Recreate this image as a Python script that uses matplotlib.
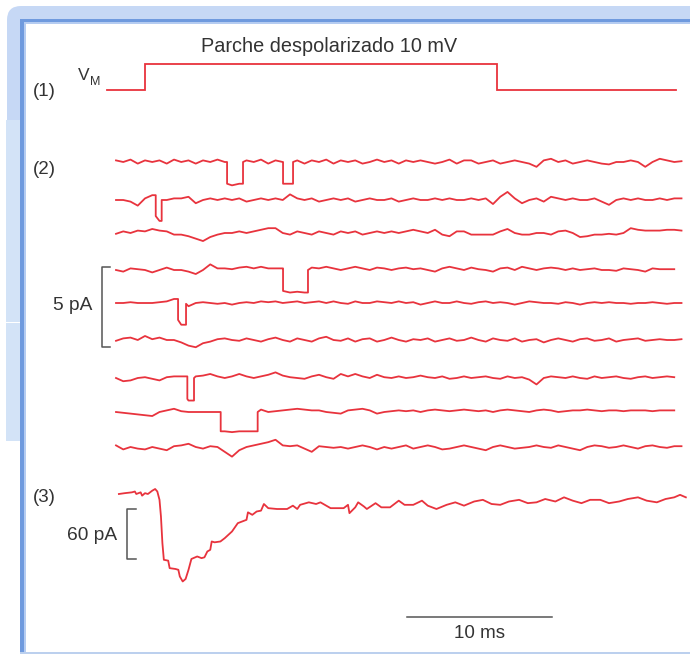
import numpy as np
import matplotlib
matplotlib.use("Agg")
import matplotlib.pyplot as plt
from matplotlib.patches import FancyBboxPatch, Rectangle

plt.rcParams['font.family'] = ['Liberation Sans', 'DejaVu Sans']

# ---------------- data ----------------
# (1) membrane potential step (ms, mV)
vm_t = [-2.6, 0.0, 0.0, 24.3, 24.3, 36.6]
vm_mv = [0, 0, 10, 10, 0, 0]

# (2) single-channel sweeps: baseline noise sampled every 0.5 ms from -2 ms (pA)
T0, DT = -2.0, 0.5
sweep1 = [0.1, 0.0, 0.15, -0.1, 0.1, 0.0, 0.1, -0.1, 0.15, 0.0,
          0.1, -0.1, 0.1, 0.0, 0.15, 0.0, -0.1, 0.0, 0.1, 0.0,
          0.15, -0.1, 0.1, 0.0, 0.0, 0.1, -0.1, 0.1, 0.0, 0.15,
          -0.1, 0.1, 0.0, 0.1, -0.1, 0.0, 0.15, 0.0, 0.1, -0.1,
          0.1, 0.0, 0.1, 0.0, -0.1, 0.0, 0.15, -0.1, 0.1, 0.1,
          -0.1, 0.0, 0.1, -0.1, 0.0, 0.1, 0.0, -0.1, -0.3, 0.1,
          0.2, 0.0, 0.1, -0.1, 0.0, 0.1, 0.0, -0.1, -0.15, 0.0,
          0.0, 0.1, 0.0, -0.3, 0.0, 0.2, 0.1, 0.0, 0.05]
sweep2 = [0.0, 0.0, -0.1, -0.35, 0.1, 0.3, 0.0, 0.0, 0.1, 0.1,
          0.2, -0.2, 0.0, 0.1, 0.0, 0.1, 0.0, 0.1, -0.1, 0.0,
          0.1, 0.0, 0.1, 0.0, 0.35, 0.1, 0.0, 0.1, -0.1, 0.0,
          0.1, 0.0, 0.1, -0.1, 0.0, 0.1, 0.0, 0.0, 0.1, -0.1,
          0.0, 0.1, 0.0, 0.0, 0.1, 0.0, 0.1, 0.0, 0.0, 0.1,
          0.0, 0.1, -0.25, 0.2, 0.5, 0.1, -0.2, 0.0, 0.1, -0.1,
          0.2, 0.1, 0.0, 0.1, 0.0, 0.0, 0.1, -0.1, -0.3, 0.0,
          0.1, 0.0, 0.1, 0.0, 0.0, 0.1, 0.0, 0.1, 0.1]
sweep3 = [-0.05, 0.1, 0.0, 0.15, 0.1, 0.25, 0.15, 0.1, -0.1, -0.1,
          -0.2, -0.35, -0.5, -0.25, -0.1, 0.0, 0.0, 0.1, 0.0, 0.1,
          0.2, 0.3, 0.3, 0.0, -0.1, 0.1, 0.0, -0.1, 0.1, 0.0,
          -0.1, 0.1, 0.0, 0.1, -0.1, 0.0, 0.1, 0.0, 0.1, 0.0,
          0.1, 0.2, 0.1, 0.0, 0.2, -0.1, -0.2, 0.1, 0.1, -0.1,
          -0.1, -0.1, -0.1, 0.1, 0.25, 0.0, -0.1, -0.1, 0.0, 0.0,
          -0.1, 0.1, 0.15, 0.0, -0.25, -0.2, -0.1, -0.1, -0.05, -0.1,
          0.0, 0.3, 0.2, 0.15, 0.15, 0.15, 0.2, 0.2, 0.15]
sweep4 = [0.0, -0.1, 0.1, 0.05, 0.0, -0.15, 0.0, 0.15, 0.0, 0.0,
          -0.1, -0.25, 0.0, 0.35, 0.1, 0.1, 0.05, 0.15, 0.2, 0.1,
          0.2, 0.1, 0.1, 0.1, 0.0, 0.05, 0.0, 0.15, 0.1, 0.2,
          0.1, 0.0, 0.1, 0.2, 0.1, 0.0, 0.15, 0.1, 0.0, 0.1,
          0.15, 0.05, 0.1, 0.0, -0.1, 0.1, 0.2, 0.1, 0.0, 0.15,
          0.05, 0.0, -0.1, 0.1, 0.15, 0.0, 0.2, 0.1, 0.0, 0.1,
          0.15, 0.1, 0.0, 0.1, 0.0, 0.05, 0.1, 0.0, 0.0, -0.05,
          0.1, 0.05, 0.0, -0.1, 0.1, 0.05, 0.05, 0.05]
sweep5 = [0.0, 0.0, 0.05, 0.0, 0.0, 0.0, 0.05, 0.1, 0.25, -0.05,
          -0.2, 0.0, 0.05, 0.0, -0.05, 0.0, -0.1, 0.0, 0.05, 0.0,
          0.1, 0.05, 0.1, 0.0, 0.05, 0.1, 0.0, 0.05, 0.1, 0.0,
          0.1, 0.0, -0.05, 0.1, 0.0, 0.0, 0.1, 0.05, 0.0, 0.1,
          0.0, 0.05, -0.1, 0.0, 0.1, 0.0, 0.0, 0.1, 0.0, -0.05,
          0.05, 0.1, 0.0, 0.05, 0.0, -0.1, 0.0, 0.1, 0.05, 0.0,
          0.0, -0.05, 0.05, 0.0, -0.1, 0.0, 0.05, 0.0, 0.05, 0.0,
          0.0, -0.05, 0.0, 0.0, 0.05, 0.0, -0.05, 0.0, 0.0]
sweep6 = [-0.05, 0.1, 0.15, 0.0, 0.25, 0.05, 0.15, 0.0, 0.0, -0.15,
          -0.35, -0.45, -0.2, -0.1, 0.05, 0.1, 0.0, -0.05, 0.1, 0.0,
          -0.1, 0.05, 0.15, 0.0, -0.1, 0.1, 0.0, -0.1, 0.1, 0.2,
          0.0, -0.05, 0.1, -0.1, 0.05, 0.1, -0.1, 0.0, 0.15, 0.0,
          -0.1, 0.05, 0.0, 0.1, -0.1, 0.0, 0.1, -0.05, 0.0, 0.15,
          0.0, -0.1, 0.1, 0.0, -0.05, 0.1, -0.1, 0.0, 0.05, -0.15,
          0.0, 0.1, 0.0, -0.1, 0.05, 0.1, -0.05, 0.0, 0.1, -0.1,
          0.0, 0.05, 0.1, -0.05, 0.0, 0.05, 0.0, 0.0, 0.05]
sweep7 = [0.0, -0.2, -0.15, 0.0, 0.05, -0.05, -0.15, 0.05, 0.1, 0.1,
          0.0, 0.1, 0.15, 0.25, 0.1, 0.0, 0.1, 0.25, 0.1, 0.0,
          0.1, 0.2, 0.35, 0.15, 0.05, 0.0, -0.05, 0.1, 0.2, 0.05,
          -0.05, 0.25, 0.1, 0.25, 0.1, 0.0, 0.2, 0.05, 0.0, 0.1,
          0.0, 0.05, 0.15, 0.05, 0.0, 0.1, -0.05, 0.0, 0.1, 0.0,
          0.05, 0.1, 0.0, -0.05, 0.1, 0.0, 0.05, -0.1, -0.4, 0.0,
          0.1, 0.05, 0.0, 0.1, 0.0, -0.05, 0.1, 0.0, 0.05, 0.1,
          0.0, -0.05, 0.05, 0.1, 0.0, 0.05, 0.1, 0.05]
sweep8 = [0.0, -0.05, -0.1, -0.15, -0.2, -0.25, 0.0, 0.1, 0.2, 0.05,
          0.0, 0.0, 0.0, 0.0, 0.0, 0.0, -0.05, 0.0, 0.0, 0.0,
          0.15, 0.0, 0.05, 0.1, 0.15, 0.2, 0.15, 0.1, 0.1, 0.0,
          -0.05, -0.1, 0.1, 0.15, 0.2, 0.1, -0.1, 0.0, 0.05, 0.1,
          0.05, 0.1, 0.0, 0.1, 0.15, 0.1, 0.05, 0.1, 0.15, 0.1,
          0.05, 0.1, 0.0, 0.1, 0.15, 0.1, 0.05, 0.0, 0.1, 0.15,
          0.1, 0.0, 0.05, 0.1, 0.1, 0.15, 0.1, 0.05, 0.1, 0.1,
          0.05, 0.1, 0.1, 0.1, 0.05, 0.1, 0.1, 0.1]
sweep9 = [0.1, -0.15, 0.0, -0.1, -0.15, 0.0, -0.1, -0.2, 0.05, 0.1,
          0.2, 0.0, -0.1, 0.05, 0.0, -0.3, -0.6, -0.2, 0.0, 0.1,
          0.2, 0.3, 0.45, 0.1, 0.05, 0.1, -0.1, -0.3, 0.05, 0.0,
          -0.05, 0.0, -0.1, 0.0, 0.1, 0.0, -0.15, 0.0, -0.1, 0.0,
          0.1, -0.1, 0.0, 0.1, 0.0, -0.15, -0.1, 0.0, 0.1, 0.0,
          -0.1, -0.2, 0.0, 0.1, 0.0, -0.1, -0.05, 0.0, 0.1, 0.0,
          -0.05, 0.1, 0.0, -0.1, -0.2, 0.0, 0.1, 0.05, -0.05, 0.0,
          0.1, 0.0, -0.1, 0.05, 0.1, 0.0, -0.05, 0.05, 0.05]
sweeps = [sweep1, sweep2, sweep3, sweep4, sweep5, sweep6, sweep7, sweep8, sweep9]

# channel openings per sweep: (open time ms, close time ms, amplitude pA)
openings = [
    [(5.66, 6.76, 1.35), (9.52, 10.21, 1.35)],
    [(0.74, 1.15, 1.3)],
    [],
    [(9.52, 11.24, 1.4)],
    [(2.28, 2.83, 1.3)],
    [],
    [(2.92, 3.38, 1.4)],
    [(5.22, 7.77, 1.2)],
    [],
]

# (3) ensemble average current (ms, pA)
ens_t = [-1.8, -1.4, -0.9, -0.7, -0.6, -0.3, -0.2, 0.0, 0.2, 0.5,
         0.7, 0.85, 1.0, 1.1, 1.2, 1.3, 1.6, 1.7, 2.1, 2.3,
         2.4, 2.6, 2.8, 3.0, 3.2, 3.6, 3.9, 4.1, 4.3, 4.5,
         4.6, 4.8, 5.2, 5.5, 6.0, 6.4, 6.7, 7.0, 7.1, 7.4,
         7.7, 8.0, 8.2, 8.5, 9.1, 9.8, 10.2, 10.5, 10.7, 11.3,
         11.8, 12.1, 12.8, 13.7, 14.0, 14.1, 14.5, 14.7, 15.1, 15.3,
         15.9, 16.3, 16.9, 17.5, 17.9, 18.5, 19.1, 19.5, 20.1, 20.8,
         21.4, 22.0, 22.7, 23.3, 23.9, 24.5, 25.1, 25.8, 26.4, 27.0,
         27.6, 28.3, 28.9, 29.5, 30.1, 30.7, 31.4, 32.0, 32.7, 33.3,
         34.0, 34.6, 35.3, 35.9, 36.5, 36.9, 37.3]
ens_pa = [0, 1, 2, 3, 0, 2, -2, 1, 0, 4,
          6, 3, -7, -27, -59, -79, -80, -89, -90, -91,
          -99, -105, -102, -91, -78, -75, -77, -76, -69, -67,
          -57, -58, -57, -53, -45, -35, -33, -31, -22, -25,
          -21, -20, -12, -17, -18, -18, -14, -18, -13, -10,
          -12, -10, -17, -17, -13, -23, -16, -10, -15, -18,
          -11, -16, -16, -8, -13, -13, -8, -14, -18, -13,
          -10, -14, -9, -7, -12, -13, -9, -7, -11, -10,
          -6, -9, -4, -8, -11, -7, -7, -11, -9, -6,
          -4, -8, -10, -6, -4, -1, -4]

# ---------------- layout (pixels) ----------------
W, H = 690, 654
X0, PX_MS = 145.0, 14.5          # x pixel of t = 0, pixels per ms
SW_BASE = [162, 200, 233, 270, 303, 340, 378, 412, 447]
SW_PX_PA = 16.1
VM_BASE, VM_PX_MV = 90, 2.65
ENS_BASE, ENS_PX_PA = 494, 0.833
RED = '#e8333d'
TXT = '#333333'
BAR = '#555555'

fig = plt.figure(figsize=(W / 100, H / 100), dpi=100)
bg = fig.add_axes([0, 0, 1, 1], label='bg')
bg.set_xlim(0, W)
bg.set_ylim(H, 0)
bg.axis('off')

# frame
bg.add_patch(FancyBboxPatch((7, 6), 900, 900, boxstyle='round,pad=0,rounding_size=14',
                            fc='#c6d8f5', ec='none'))
bg.add_patch(Rectangle((6, 120), 15, 321, fc='#d3e3f7', ec='none'))
bg.add_patch(Rectangle((6, 321.5), 15, 1.2, fc='white', ec='none'))
bg.add_patch(Rectangle((0, 441), 21, 220, fc='white', ec='none'))
bg.add_patch(Rectangle((20, 20), 700, 700, fc='white', ec='none'))
bg.add_patch(Rectangle((19.5, 18.5), 700, 3.5, fc='#6f9ade', ec='none'))
bg.add_patch(Rectangle((19.5, 18.5), 4.5, 634, fc='#6f9ade', ec='none'))
bg.add_patch(Rectangle((24, 22), 700, 1.5, fc='#b5ccf1', ec='none'))
bg.add_patch(Rectangle((24, 22), 1.5, 630, fc='#b5ccf1', ec='none'))
bg.add_patch(Rectangle((19.5, 651.5), 700, 3, fc='#bcd0ee', ec='none'))

# labels
bg.text(329, 47, 'Parche despolarizado 10 mV', ha='center', va='center', fontsize=14.3, color=TXT)
for lab, yy in (('(1)', 91), ('(2)', 169), ('(3)', 497)):
    bg.text(44, yy, lab, ha='center', va='center', fontsize=13.5, color=TXT)
bg.text(84, 75, 'V', ha='center', va='center', fontsize=12.5, color=TXT)
bg.text(95.5, 82, 'M', ha='center', va='center', fontsize=9, color=TXT)
bg.text(92, 305, '5 pA', ha='right', va='center', fontsize=13.8, color=TXT)
bg.text(117, 536, '60 pA', ha='right', va='center', fontsize=13.8, color=TXT)
bg.text(480, 633, '10 ms', ha='center', va='center', fontsize=13.5, color=TXT)


def data_axes(name, base_px, px_per_unit):
    ax = fig.add_axes([0, 0, 1, 1], label=name)
    ax.axis('off')
    ax.patch.set_alpha(0)
    ax.set_xlim(-X0 / PX_MS, (W - X0) / PX_MS)
    ax.set_ylim((base_px - H) / px_per_unit, base_px / px_per_unit)
    return ax


def build(noise, events):
    noise = np.asarray(noise, float)
    t = T0 + DT * np.arange(len(noise))
    pts = [(tk, 0) for tk in t] + [(e, s) for on, off, a in events
                                   for e in (on, off) for s in (-1, 1)]
    pts.sort()
    xs, ys = [], []
    for x, s in pts:
        k = max(int(np.searchsorted(t, x, side='right')) - 1, 0)
        xe = x + s * 1e-6
        amp = sum(a for on, off, a in events if on <= xe < off)
        xs.append(x)
        ys.append(noise[k] - amp)
    return xs, ys


# (1) voltage step
axv = data_axes('vm', VM_BASE, VM_PX_MV)
axv.plot(vm_t, vm_mv, color=RED, lw=1.3, solid_joinstyle='miter')

# (2) single-channel sweeps
for i, (sw, ev, base) in enumerate(zip(sweeps, openings, SW_BASE)):
    ax = data_axes(f'sw{i}', base, SW_PX_PA)
    xs, ys = build(sw, ev)
    ax.plot(xs, ys, color=RED, lw=1.3)
    if i == 3:
        # 5 pA calibration bracket
        top = 0.19
        xb, xt = -2.99, -2.41
        ax.plot([xt, xb, xb, xt], [top, top, top - 5, top - 5], color=BAR, lw=1.1)

# (3) ensemble average
axe = data_axes('ens', ENS_BASE, ENS_PX_PA)
axe.plot(ens_t, ens_pa, color=RED, lw=1.3)
top = -18.4
axe.plot([-0.62, -1.22, -1.22, -0.62], [top, top, top - 60, top - 60], color=BAR, lw=1.1)
axe.plot([18.09, 28.09], [-147.7, -147.7], color=BAR, lw=1.1)

fig.savefig('out.png', dpi=100)
